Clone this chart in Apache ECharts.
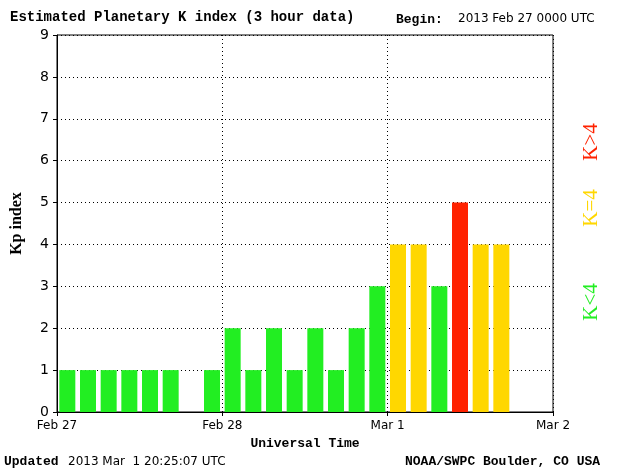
<!DOCTYPE html>
<html>
<head>
<meta charset="utf-8">
<style>html,body{margin:0;background:#fff}#main{width:630px;height:473px}</style>
</head>
<body>
<div id="main"></div>
<script src="https://cdn.jsdelivr.net/npm/echarts@6/dist/echarts.min.js"></script>
<script>
// Kp values for each 3-hour slot from Feb 27 00 UTC (null = no data)
var kpValues = [1,1,1,1,1,1,null,1, 2,1,2,1,2,1,2,3, 4,4,3,5,4,4,null,null];
var dayLabels = ['Feb 27','Feb 28','Mar 1','Mar 2'];
var yTicks = [0,1,2,3,4,5,6,7,8,9];

function kpColor(v){ return v < 4 ? '#22ee22' : (v == 4 ? '#ffd700' : '#ff2200'); }

var barData = [];
kpValues.forEach(function(v,i){
  if(v !== null) barData.push({value:[i+0.5, v], itemStyle:{color:kpColor(v)}});
});

var chart = echarts.init(document.getElementById('main'));
chart.setOption({
  animation:false,
  grid:{left:57,right:77,top:35,bottom:61},
  xAxis:{type:'value',min:0,max:24,interval:8,
    axisLine:{lineStyle:{color:'#000'}},axisTick:{show:true,length:4,lineStyle:{color:'#000'}},
    axisLabel:{color:'#000',fontSize:12,fontFamily:'DejaVu Sans',formatter:function(v){return dayLabels[v/8];}},
    splitLine:{show:true,lineStyle:{color:'#000',type:[1,3]}},
    name:'Universal Time',nameLocation:'middle',nameGap:22,
    nameTextStyle:{color:'#000',fontWeight:'bold',fontFamily:'Liberation Mono',fontSize:13}},
  yAxis:{type:'value',min:0,max:9,interval:1,
    axisLine:{show:true,lineStyle:{color:'#000'}},axisTick:{show:true,length:4,lineStyle:{color:'#000'}},
    axisLabel:{color:'#000',fontSize:14,fontFamily:'DejaVu Sans',formatter:function(v){return yTicks[v];}},
    splitLine:{show:true,lineStyle:{color:'#000',type:[1,3]}},
    name:'Kp index',nameLocation:'middle',nameGap:32,
    nameTextStyle:{color:'#000',fontWeight:'bold',fontFamily:'Liberation Serif',fontSize:16}},
  series:[{type:'bar',barWidth:16,data:barData}],
  graphic:[
    {type:'rect',shape:{x:57,y:35,width:496,height:377},style:{fill:'none',stroke:'#000',lineWidth:1},silent:true},
    {type:'text',left:10,top:10,style:{text:'Estimated Planetary K index (3 hour data)',font:'bold 14px "Liberation Mono"',fill:'#000'}},
    {type:'text',left:396,top:13,style:{text:'Begin:',font:'bold 13px "Liberation Mono"',fill:'#000'}},
    {type:'text',left:458,top:13,style:{text:'2013 Feb 27 0000 UTC',font:'12px "DejaVu Sans"',fill:'#000'}},
    {type:'text',left:4,top:455,style:{text:'Updated',font:'bold 13px "Liberation Mono"',fill:'#000'}},
    {type:'text',left:68,top:456,style:{text:'2013 Mar  1 20:25:07 UTC',font:'12px "DejaVu Sans"',fill:'#000'}},
    {type:'text',left:405,top:455,style:{text:'NOAA/SWPC Boulder, CO USA',font:'bold 13px "Liberation Mono"',fill:'#000'}},
    {type:'text',x:591,y:302,rotation:Math.PI/2,style:{text:'K<4',font:'21px "Liberation Serif"',fill:'#22ee22',align:'center',verticalAlign:'middle'}},
    {type:'text',x:591,y:208,rotation:Math.PI/2,style:{text:'K=4',font:'21px "Liberation Serif"',fill:'#ffd700',align:'center',verticalAlign:'middle'}},
    {type:'text',x:591,y:142,rotation:Math.PI/2,style:{text:'K>4',font:'21px "Liberation Serif"',fill:'#ff2200',align:'center',verticalAlign:'middle'}}
  ]
});
</script>
</body>
</html>
